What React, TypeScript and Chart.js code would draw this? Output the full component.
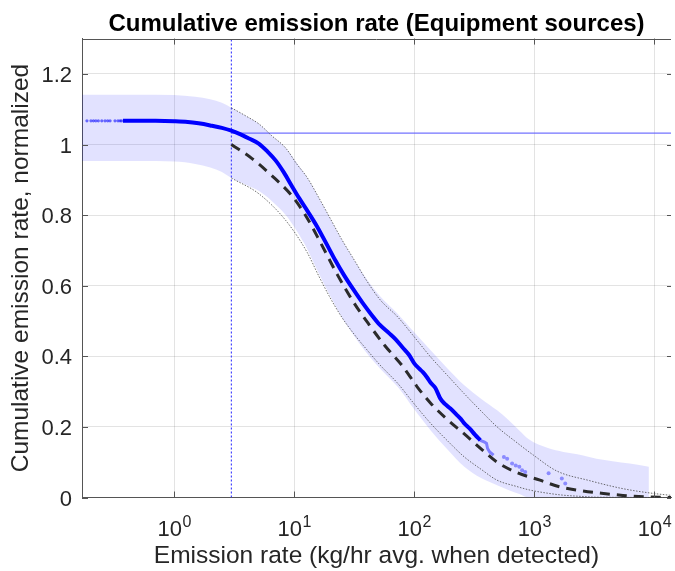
import { useEffect, useRef } from 'react';
import { Chart, registerables } from 'chart.js';

Chart.register(...registerables);

const FONT = '"Liberation Sans", Arial, Helvetica, sans-serif';

// Axis ticks
const xTicks = [1, 10, 100, 1000, 10000];
const xTickExponents = ['0', '1', '2', '3', '4'];
const yTicks = [0, 0.2, 0.4, 0.6, 0.8, 1, 1.2];
const yTickLabels = ['0', '0.2', '0.4', '0.6', '0.8', '1', '1.2'];
const xMin = 0.171;
const xMax = 13750;
const yMin = 0;
const yMax = 1.3;

// Reference lines
const detectionLimit = 3;
const totalRate = 1.032;

// Observed cumulative (sparse low-rate dots)
const lowDotsX = [0.188, 0.203, 0.213, 0.223, 0.234, 0.25, 0.266, 0.28, 0.293, 0.322, 0.341, 0.355, 0.365];
const lowDotsY = [1.067, 1.067, 1.067, 1.067, 1.067, 1.067, 1.067, 1.067, 1.067, 1.067, 1.067, 1.067, 1.067];

// Observed cumulative (main line)
const obsX = [0.375, 0.5, 0.7, 1.0, 1.3, 1.6, 2.0, 2.5, 3.0, 3.5, 4.2, 5.1, 6.0, 7.0, 8.2, 9.5, 11, 13, 15.5, 18.5, 22, 26, 31, 37, 44, 52, 62, 70, 80, 90, 100, 110, 118, 128, 137, 150, 165, 180, 200, 225, 245, 261, 290, 320, 355];
const obsY = [1.067, 1.067, 1.067, 1.066, 1.064, 1.06, 1.054, 1.047, 1.039, 1.03, 1.017, 1.002, 0.98, 0.955, 0.921, 0.884, 0.848, 0.81, 0.768, 0.72, 0.672, 0.63, 0.59, 0.552, 0.518, 0.488, 0.465, 0.448, 0.425, 0.405, 0.38, 0.365, 0.355, 0.34, 0.325, 0.31, 0.28, 0.265, 0.252, 0.235, 0.222, 0.21, 0.195, 0.178, 0.162];

// Observed cumulative (lighter tail)
const tailLineX = [355, 385, 400, 408, 425, 458];
const tailLineY = [0.162, 0.157, 0.153, 0.139, 0.129, 0.12];
const tailDotsX = [558, 594, 653, 700, 750, 791, 840, 1315, 1694, 1810];
const tailDotsY = [0.115, 0.11, 0.096, 0.091, 0.087, 0.077, 0.072, 0.069, 0.054, 0.04];

// Model (dashed)
const modelX = [3, 4.46, 6.5, 9.5, 12.7, 17, 23, 31, 42, 57, 80, 105, 137, 190, 261, 360, 490, 700, 1115, 1630, 2380, 3630, 5470, 8520, 13750];
const modelY = [1.0, 0.96, 0.912, 0.856, 0.794, 0.715, 0.63, 0.555, 0.49, 0.43, 0.372, 0.315, 0.267, 0.22, 0.18, 0.138, 0.1, 0.072, 0.049, 0.03, 0.02, 0.012, 0.006, 0.002, 0.0];

// Model bounds (dotted)
const upperX = [3, 4, 5.1, 6.5, 8.5, 10.5, 12.8, 16, 20, 25, 32, 40, 52, 73, 100, 137, 190, 261, 360, 490, 700, 983, 1540, 2870, 5470, 9570, 13750];
const upperY = [1.104, 1.08, 1.058, 1.025, 0.99, 0.945, 0.907, 0.85, 0.79, 0.73, 0.67, 0.615, 0.56, 0.511, 0.455, 0.398, 0.345, 0.294, 0.245, 0.2, 0.158, 0.12, 0.075, 0.048, 0.025, 0.012, 0.006];
const lowerX = [3, 5.1, 8.5, 12.8, 16, 20, 25, 32, 40, 52, 73, 100, 137, 190, 261, 360, 490, 700, 920, 1300, 1750, 2500, 3200, 13750];
const lowerY = [0.905, 0.86, 0.785, 0.695, 0.628, 0.565, 0.51, 0.46, 0.42, 0.375, 0.323, 0.265, 0.21, 0.16, 0.115, 0.08, 0.049, 0.032, 0.021, 0.012, 0.0065, 0.003, 0.001, 0];

// Uncertainty band (shaded)
const bandX = [0.15, 0.5, 1.0, 1.5, 2.0, 2.5, 3.0, 4.0, 5.1, 6.5, 8.5, 10.5, 12.8, 16, 20, 25, 32, 40, 52, 73, 100, 137, 190, 261, 360, 490, 600, 750, 900, 1300, 1750, 2500, 3300, 4500, 6240, 9000];
const bandUpper = [1.141, 1.141, 1.14, 1.135, 1.128, 1.118, 1.104, 1.08, 1.058, 1.025, 0.99, 0.948, 0.907, 0.85, 0.79, 0.73, 0.67, 0.62, 0.57, 0.52, 0.468, 0.417, 0.365, 0.318, 0.28, 0.247, 0.222, 0.19, 0.165, 0.14, 0.129, 0.12, 0.11, 0.103, 0.096, 0.087];
const bandLower = [0.953, 0.953, 0.952, 0.945, 0.935, 0.922, 0.905, 0.885, 0.868, 0.84, 0.8, 0.755, 0.705, 0.635, 0.57, 0.51, 0.455, 0.41, 0.365, 0.313, 0.25, 0.19, 0.135, 0.087, 0.055, 0.035, 0.022, 0.01, 0.0, 0, 0, 0, 0, 0, 0, 0];

const pts = (xs: number[], ys: number[]) => xs.map((x, i) => ({ x, y: ys[i] }));

const axesPlugin = {
  id: 'matlabAxes',
  afterDraw(chart: any) {
    const { ctx, chartArea, scales } = chart;
    const { left, right, top, bottom } = chartArea;
    const xs = scales.x;
    const ys = scales.y;
    ctx.save();
    ctx.strokeStyle = '#555555';
    ctx.lineWidth = 1;
    ctx.beginPath();
    ctx.moveTo(left, Math.round(top) + 0.5);
    ctx.lineTo(right, Math.round(top) + 0.5);
    ctx.stroke();
    ctx.beginPath();
    for (const v of xTicks) {
      const px = Math.round(xs.getPixelForValue(v)) + 0.5;
      ctx.moveTo(px, bottom);
      ctx.lineTo(px, bottom - 6);
      ctx.moveTo(px, top);
      ctx.lineTo(px, top + 6);
    }
    for (const v of yTicks) {
      const py = Math.round(ys.getPixelForValue(v)) + 0.5;
      ctx.moveTo(left, py);
      ctx.lineTo(left + 6, py);
      ctx.moveTo(right - 4, py);
      ctx.lineTo(right, py);
    }
    ctx.stroke();
    ctx.fillStyle = '#262626';
    ctx.textAlign = 'left';
    ctx.textBaseline = 'alphabetic';
    const baseFont = `22px ${FONT}`;
    const expFont = `16px ${FONT}`;
    xTicks.forEach((v, i) => {
      const px = xs.getPixelForValue(v);
      const exp = xTickExponents[i];
      ctx.font = baseFont;
      const bw = ctx.measureText('10').width;
      ctx.font = expFont;
      const ew = ctx.measureText(exp).width;
      const start = px - (bw + ew) / 2;
      ctx.font = baseFont;
      ctx.fillText('10', start, bottom + 38);
      ctx.font = expFont;
      ctx.fillText(exp, start + bw + 0.5, bottom + 29.5);
    });
    ctx.restore();
  },
};

export default function App() {
  const ref = useRef<HTMLCanvasElement | null>(null);
  useEffect(() => {
    if (!ref.current) return;
    const line = (data: any, extra: any) => ({
      data,
      pointRadius: 0,
      fill: false,
      tension: 0,
      ...extra,
    });
    const chart = new Chart(ref.current, {
      type: 'line',
      data: {
        datasets: [
          line(pts(obsX, obsY), { borderColor: '#0000ff', borderWidth: 4, cubicInterpolationMode: 'monotone', order: 1 }),
          line(pts(lowDotsX, lowDotsY), { showLine: false, pointRadius: 1.6, pointBorderWidth: 0, pointBackgroundColor: 'rgba(0,0,255,0.55)', order: 1 }),
          line(pts(tailLineX, tailLineY), { borderColor: 'rgba(60,60,255,0.6)', borderWidth: 3, order: 1 }),
          line(pts(tailDotsX, tailDotsY), { showLine: false, pointRadius: 2, pointBorderWidth: 0, pointBackgroundColor: 'rgba(80,80,255,0.6)', order: 1 }),
          line(pts(modelX, modelY), { borderColor: '#2b2b2b', borderWidth: 3, borderDash: [10, 7], cubicInterpolationMode: 'monotone', order: 2 }),
          line(pts(upperX, upperY), { borderColor: 'rgba(60,60,60,0.75)', borderWidth: 1, borderDash: [1.5, 1.5], cubicInterpolationMode: 'monotone', order: 3 }),
          line(pts(lowerX, lowerY), { borderColor: 'rgba(60,60,60,0.75)', borderWidth: 1, borderDash: [1.5, 1.5], cubicInterpolationMode: 'monotone', order: 3 }),
          line([{ x: detectionLimit, y: yMin }, { x: detectionLimit, y: yMax }], { borderColor: 'rgb(70,70,255)', borderWidth: 1.2, borderDash: [2, 2], order: 4 }),
          line([{ x: detectionLimit, y: totalRate }, { x: xMax, y: totalRate }], { borderColor: 'rgba(90,90,255,0.85)', borderWidth: 1.2, order: 4 }),
          line(pts(bandX, bandUpper), { borderWidth: 0, borderColor: 'rgba(0,0,0,0)', backgroundColor: 'rgba(0,0,255,0.115)', fill: '+1', cubicInterpolationMode: 'monotone', order: 9 }),
          line(pts(bandX, bandLower), { borderWidth: 0, borderColor: 'rgba(0,0,0,0)', cubicInterpolationMode: 'monotone', order: 10 }),
        ],
      },
      options: {
        responsive: false,
        animation: false,
        events: [],
        layout: { padding: 0 },
        plugins: {
          legend: { display: false },
          tooltip: { enabled: false },
          title: {
            display: true,
            text: 'Cumulative emission rate (Equipment sources)',
            color: '#000000',
            font: { family: FONT, size: 24, weight: 'bold', lineHeight: 1.2 },
            padding: { top: 9.8, bottom: 0 },
            fullSize: false,
          },
        },
        scales: {
          x: {
            type: 'logarithmic',
            min: xMin,
            max: xMax,
            afterBuildTicks: (s: any) => { s.ticks = xTicks.map((v) => ({ value: v })); },
            afterFit: (s: any) => { s.height = 73.5; },
            ticks: { display: false },
            grid: { color: 'rgba(0,0,0,0.11)', drawTicks: false },
            border: { color: '#555555', width: 1 },
            title: {
              display: true,
              text: 'Emission rate (kg/hr avg. when detected)',
              color: '#262626',
              font: { family: FONT, size: 24.5, lineHeight: 1.2 },
              padding: { top: 0, bottom: 0 },
            },
          },
          y: {
            type: 'linear',
            min: yMin,
            max: yMax,
            afterBuildTicks: (s: any) => { s.ticks = yTicks.map((v) => ({ value: v })); },
            afterFit: (s: any) => { s.width = 82; },
            ticks: {
              color: '#262626',
              font: { family: FONT, size: 22 },
              padding: 10,
              labelOffset: 2,
              callback: (v: any) => yTickLabels[yTicks.indexOf(Number(v))] ?? '',
            },
            grid: { color: 'rgba(0,0,0,0.11)', drawTicks: false },
            border: { color: '#555555', width: 1 },
            title: {
              display: true,
              text: 'Cumulative emission rate, normalized',
              color: '#262626',
              font: { family: FONT, size: 24.5, lineHeight: 1.2 },
              padding: { top: 7, bottom: 0 },
            },
          },
        },
      },
      plugins: [axesPlugin],
    });
    return () => chart.destroy();
  }, []);
  return (
    <div style={{ position: 'fixed', left: 0, top: 0, width: 675, height: 571, background: '#ffffff' }}>
      <canvas ref={ref} width={675} height={571} style={{ display: 'block' }} />
    </div>
  );
}
